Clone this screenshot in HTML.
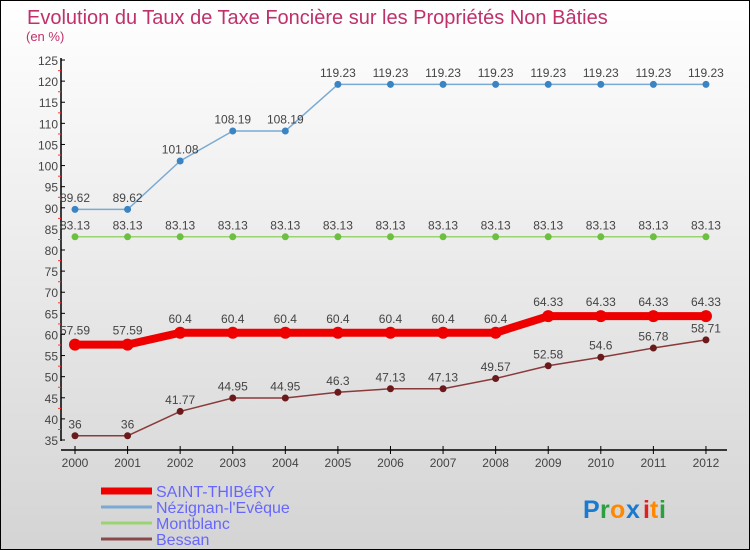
<!DOCTYPE html>
<html><head><meta charset="utf-8"><style>
body{margin:0}
#c{position:relative;width:748px;height:548px;border:1px solid #000;background:linear-gradient(#ffffff,#d4d4d4);font-family:"Liberation Sans",sans-serif;overflow:hidden}
</style></head><body>
<div id="c">
<svg id="s" width="748" height="548" xmlns="http://www.w3.org/2000/svg" style="position:absolute;left:0;top:0">
<text x="26" y="23" font-size="20" fill="#c0306a">Evolution du Taux de Taxe Foncière sur les Propriétés Non Bâties</text>
<text x="25" y="40" font-size="13" fill="#c0306a">(en %)</text>
<g font-size="25" font-weight="bold">
<text x="582" y="517" fill="#1a7ad0">P</text><text x="599" y="517" fill="#2aa040">r</text><text x="609" y="517" fill="#ff8800">o</text><text x="625" y="517" fill="#1a7ad0">x</text><text x="642" y="517" fill="#e02020">i</text><text x="649" y="517" fill="#ff8800">t</text><text x="658" y="517" fill="#2aa040">i</text>
</g>
</svg>
</div>
<script>
const years=[2000,2001,2002,2003,2004,2005,2006,2007,2008,2009,2010,2011,2012];
const yTicks=[35,40,45,50,55,60,65,70,75,80,85,90,95,100,105,110,115,120,125];
const saint=[57.59,57.59,60.4,60.4,60.4,60.4,60.4,60.4,60.4,64.33,64.33,64.33,64.33];
const nez=[89.62,89.62,101.08,108.19,108.19,119.23,119.23,119.23,119.23,119.23,119.23,119.23,119.23];
const mont=[83.13,83.13,83.13,83.13,83.13,83.13,83.13,83.13,83.13,83.13,83.13,83.13,83.13];
const bes=[36,36,41.77,44.95,44.95,46.3,47.13,47.13,49.57,52.58,54.6,56.78,58.71];
const seriesNames=["SAINT-THIBéRY","Nézignan-l'Evêque","Montblanc","Bessan"];
const s=document.getElementById('s');const NS='http://www.w3.org/2000/svg';
function X(i){return 74+i*52.58}
function Y(v){return 439-(v-35)*4.222}
function mk(t,a,p){const e=document.createElementNS(NS,t);for(const k in a)e.setAttribute(k,a[k]);(p||s).appendChild(e);return e}
const ax=mk('g',{});


mk('line',{x1:60,y1:57,x2:60,y2:440,stroke:'#000','stroke-width':1.5},ax);
mk('line',{x1:60,y1:449,x2:726,y2:449,stroke:'#000','stroke-width':1.5},ax);
yTicks.forEach(v=>{const y=Y(v);mk('line',{x1:60,y1:y,x2:64,y2:y,stroke:'#000'},ax);
if(v<125)mk('line',{x1:57,y1:y-10.5,x2:60,y2:y-10.5,stroke:'#f33'},ax);
const t=mk('text',{x:57,y:y+5,'text-anchor':'end','font-size':12,fill:'#444'},ax);t.textContent=v;

});
years.forEach((yr,i)=>{const x=X(i);mk('line',{x1:x,y1:445,x2:x,y2:453,stroke:'#000'},ax);
const t=mk('text',{x:x,y:466,'text-anchor':'middle','font-size':12,fill:'#444'},ax);t.textContent=yr;

});
function series(d,col,w,r,dot,name){const g=mk('g',{});


mk('polyline',{points:d.map((v,i)=>X(i)+','+Y(v)).join(' '),fill:'none',stroke:col,'stroke-width':w,'stroke-linejoin':'round'},g);
d.forEach((v,i)=>{const c=mk('circle',{cx:X(i),cy:Y(v),r:r,fill:dot},g);


const t=mk('text',{x:X(i),y:Y(v)-(r+4),'text-anchor':'middle','font-size':12,fill:'#444'},g);t.textContent=v;

});}
series(nez,'#7aaad4',1.5,3.5,'#3a84c4','nezignan-series');
series(mont,'#9ad470',1.5,3.5,'#6cc040','montblanc-series');
series(bes,'#8a3a3a',1.5,3.5,'#6a1a1a','bessan-series');
series(saint,'#ee0000',8,6,'#ee0000','saint-thibery-series');
const cols=['#ee0000','#7aaad4','#9ad470','#8a4a4a'],ws=[7,3,3,3];
seriesNames.forEach((n,i)=>{const y=490+i*16;const g=mk('g',{});


mk('line',{x1:100,y1:y,x2:151,y2:y,stroke:cols[i],'stroke-width':ws[i]},g);
const t=mk('text',{x:155,y:y+6,'font-size':16,fill:'#6666ff'},g);t.textContent=n;});
</script>
</body></html>
